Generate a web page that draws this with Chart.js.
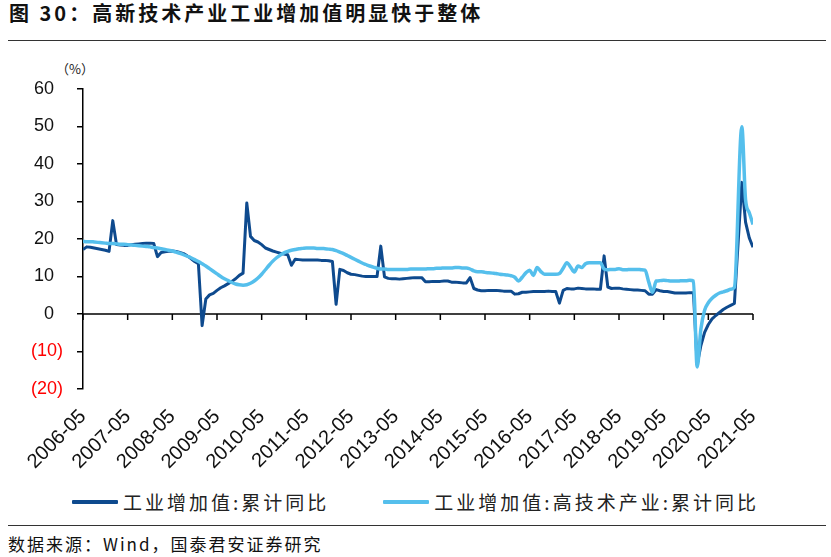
<!DOCTYPE html>
<html>
<head>
<meta charset="utf-8">
<script src="https://cdn.jsdelivr.net/npm/chart.js@4/dist/chart.umd.min.js"></script>
<style>
  body { margin: 0; background: #fff; width: 831px; height: 557px; position: relative; overflow: hidden; }
  #title { position: absolute; left: 9px; top: 1px; font: bold 20px/24px "Noto Sans CJK SC", sans-serif; letter-spacing: 3px; color: #111; white-space: nowrap; }
  .rule { position: absolute; left: 8px; width: 818px; height: 1px; background: #333; }
  #unit { position: absolute; left: 56px; top: 61px; font: 13px/16px "Noto Sans CJK SC", sans-serif; color: #222; }
  #wrap { position: absolute; left: 0; top: 45px; width: 831px; height: 429px; }
  #legend { position: absolute; left: 0; top: 491px; width: 831px; height: 22px; display: flex; justify-content: center; }
  #legend .item { display: flex; align-items: center; font: 19px/22px "Noto Sans CJK SC", sans-serif; letter-spacing: 3px; color: #222; white-space: nowrap; }
  #legend .item + .item { margin-left: 54px; }
  #legend .line { display: inline-block; width: 46px; height: 4px; margin-right: 5px; border-radius: 1px; }
  #src { position: absolute; left: 8px; top: 533px; font: 17px/22px "Noto Sans CJK SC", sans-serif; letter-spacing: 2px; color: #111; white-space: nowrap; }
</style>
</head>
<body>
<div id="title">图 30：高新技术产业工业增加值明显快于整体</div>
<div class="rule" style="top:40px"></div>
<div id="unit">（%）</div>
<div id="wrap"><canvas id="chart" width="831" height="429"></canvas></div>
<div id="legend"></div>
<div class="rule" style="top:525px"></div>
<div id="src">数据来源：Wind，国泰君安证券研究</div>
<script>
// 月度数据 2006-05 ~ 2021-05
const tickLabels = ['2006-05', '2007-05', '2008-05', '2009-05', '2010-05', '2011-05', '2012-05', '2013-05',
    '2014-05', '2015-05', '2016-05', '2017-05', '2018-05', '2019-05', '2020-05', '2021-05'];

// 工业增加值:累计同比
const gongye = [
    17.2, 17.9, 17.8, 17.6, 17.4, 17.2, 17.0, 16.7,                         // 2006
    24.9, 18.5, 18.4, 18.3, 18.3, 18.5, 18.6, 18.7, 18.8, 18.9, 18.9, 18.8, // 2007
    15.3, 16.4, 16.6, 16.7, 16.8, 16.7, 16.4, 16.1, 15.5, 14.8, 14.0, 13.4, // 2008
    -3.1, 4.0, 5.1, 5.5, 6.3, 7.0, 7.5, 8.1, 8.7, 9.4, 10.3, 10.9,         // 2009
    29.6, 20.7, 19.6, 19.2, 18.5, 17.6, 17.2, 16.8, 16.5, 16.2, 16.0, 15.8, // 2010
    13.0, 14.6, 14.5, 14.4, 14.4, 14.4, 14.4, 14.4, 14.3, 14.3, 14.2, 14.0, // 2011
    2.6, 11.9, 11.6, 11.0, 10.6, 10.5, 10.3, 10.1, 10.0, 10.0, 10.0, 10.0,  // 2012
    18.1, 9.9, 9.5, 9.4, 9.4, 9.3, 9.4, 9.5, 9.6, 9.7, 9.7, 9.7,            // 2013
    8.6, 8.6, 8.7, 8.7, 8.7, 8.8, 8.8, 8.5, 8.5, 8.4, 8.3, 8.3,             // 2014
    9.7, 6.8, 6.4, 6.2, 6.2, 6.3, 6.3, 6.3, 6.2, 6.1, 6.1, 6.1,             // 2015
    5.3, 5.4, 5.8, 5.8, 5.9, 6.0, 6.0, 6.0, 6.0, 6.1, 6.0, 6.0,             // 2016
    2.9, 6.3, 6.8, 6.7, 6.7, 6.9, 6.8, 6.7, 6.7, 6.7, 6.6, 6.6,             // 2017
    15.5, 7.2, 6.8, 6.9, 6.9, 6.7, 6.6, 6.5, 6.4, 6.4, 6.3, 6.2,            // 2018
    5.3, 5.3, 6.5, 6.2, 6.0, 6.0, 5.8, 5.6, 5.6, 5.6, 5.6, 5.7,             // 2019
    5.7, -13.5, -8.4, -4.9, -2.8, -1.3, -0.4, 0.4, 1.2, 1.8, 2.3, 2.8,      // 2020
    null, 35.1, 24.5, 20.3, 17.8                                            // 2021
];

// 工业增加值:高技术产业:累计同比
const gaojishu = [
    19.4, 19.3, 19.3, 19.2, 19.1, 19.0, 18.9, 18.8,
    18.8, 18.7, 18.6, 18.6, 18.5, 18.4, 18.3, 18.2, 18.1, 18.0, 17.9, 17.7,
    17.6, 17.4, 17.2, 17.0, 16.8, 16.5, 16.2, 15.8, 15.4, 15.0, 14.5, 14.0,
    13.4, 12.8, 12.1, 11.4, 10.7, 10.0, 9.4, 8.9, 8.4, 8.0, 7.8, 7.7,
    7.8, 8.2, 8.8, 9.6, 10.6, 11.8, 13.0, 14.1, 15.0, 15.7, 16.3, 16.7,
    17.0, 17.2, 17.4, 17.5, 17.6, 17.6, 17.6, 17.5, 17.5, 17.4, 17.3, 17.2,
    16.9, 16.5, 16.1, 15.6, 15.1, 14.6, 14.1, 13.6, 13.2, 12.8, 12.5, 12.2,
    12.0, 12.0, 11.9, 11.9, 11.9, 11.9, 11.9, 11.9, 12.0, 12.0, 12.0, 12.0,
    12.0, 12.1, 12.1, 12.2, 12.2, 12.3, 12.3, 12.3, 12.4, 12.4, 12.3, 12.3,
    12.0, 11.5, 11.3, 11.3, 11.1, 11.0, 10.9, 10.8, 10.6, 10.5, 10.4, 10.2,
    9.8, 8.8, 9.8, 11.0, 11.7, 10.3, 12.4, 11.3, 10.6, 10.6, 10.6, 10.6,
    10.8, 12.2, 13.7, 12.5, 11.2, 12.8, 12.4, 13.4, 13.7, 13.7, 13.7, 13.7,
    12.0, 11.8, 11.9, 11.9, 12.1, 11.8, 11.8, 11.9, 11.9, 11.9, 11.8, 11.7,
    8.5, 5.8, 8.8, 8.9, 9.0, 8.9, 8.8, 8.8, 8.8, 8.9, 8.9, 9.0,
    8.8, -14.1, -4.0, 1.0, 3.0, 4.2, 5.0, 5.6, 5.9, 6.2, 6.6, 7.1,
    null, 49.9, 30.5, 27.0, 23.9
];

const toPoints = arr => arr.map((v, i) => ({ x: i, y: v }));

// 0轴和刻度线
const zeroAxis = {
    id: 'zeroAxis',
    beforeDatasetsDraw(chart) {
        const { ctx, chartArea, scales: { x, y } } = chart;
        const y0 = y.getPixelForValue(0);
        ctx.save();
        ctx.strokeStyle = '#000';
        ctx.lineWidth = 1.5;
        ctx.beginPath();
        ctx.moveTo(chartArea.left, y0);
        ctx.lineTo(chartArea.right, y0);
        x.ticks.forEach(t => {
            const px = x.getPixelForValue(t.value);
            ctx.moveTo(px, y0);
            ctx.lineTo(px, y0 + 6);
        });
        ctx.stroke();
        ctx.restore();
    }
};

const chart = new Chart(document.getElementById('chart'), {
    type: 'line',
    data: {
        datasets: [{
            label: '工业增加值:累计同比',
            data: toPoints(gongye),
            borderColor: '#0E4A8E',
            backgroundColor: '#0E4A8E',
            borderWidth: 3,
            pointRadius: 0,
            tension: 0,
            spanGaps: true,
            borderJoinStyle: 'round',
            order: 2
        }, {
            label: '工业增加值:高技术产业:累计同比',
            data: toPoints(gaojishu),
            borderColor: '#55BFEC',
            backgroundColor: '#55BFEC',
            borderWidth: 3.5,
            pointRadius: 0,
            cubicInterpolationMode: 'monotone',
            spanGaps: true,
            borderJoinStyle: 'round',
            order: 1
        }]
    },
    options: {
        responsive: false,
        animation: false,
        devicePixelRatio: 1,
        layout: { padding: { left: 0, right: 0, top: 44, bottom: 0 } },
        plugins: {
            tooltip: { enabled: false },
            legend: { display: false }
        },
        scales: {
            x: {
                type: 'linear',
                min: 0,
                max: 180,
                grid: { display: false },
                border: { display: false },
                ticks: {
                    stepSize: 12,
                    autoSkip: false,
                    minRotation: 45,
                    maxRotation: 45,
                    padding: 8,
                    color: '#111',
                    font: { family: '"Liberation Sans"', size: 20 },
                    callback: v => tickLabels[v / 12]
                },
                afterFit: s => { s.height = 85; }
            },
            y: {
                min: -20,
                max: 60,
                grid: { drawOnChartArea: false, tickLength: 6, tickColor: '#000', lineWidth: 1.5 },
                border: { display: true, color: '#000', width: 1.5 },
                ticks: {
                    stepSize: 10,
                    padding: 14,
                    font: { family: '"Liberation Sans"', size: 18 },
                    color: c => c.tick.value < 0 ? '#ff0000' : '#111',
                    callback: v => v < 0 ? '(' + (-v) + ')' : v + '\u2002'
                },
                afterFit: s => { s.width = 83; }
            },
            // 右侧留白
            yRight: {
                position: 'right',
                grid: { display: false },
                border: { display: false },
                ticks: { display: false },
                afterFit: s => { s.width = 78; }
            }
        }
    },
    plugins: [zeroAxis]
});

// 图例（按数据集顺序）
const legendBox = document.getElementById('legend');
chart.data.datasets.forEach(ds => {
    const item = document.createElement('span');
    item.className = 'item';
    const line = document.createElement('span');
    line.className = 'line';
    line.style.background = ds.borderColor;
    item.appendChild(line);
    item.appendChild(document.createTextNode(ds.label));
    legendBox.appendChild(item);
});
</script>
</body>
</html>
